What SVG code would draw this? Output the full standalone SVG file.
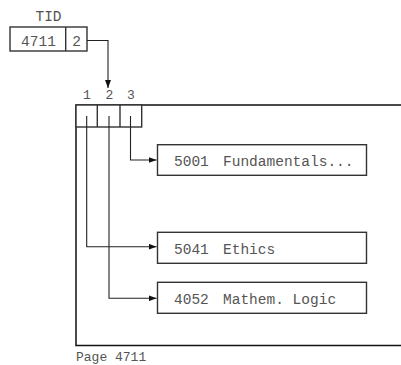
<svg xmlns="http://www.w3.org/2000/svg" width="401" height="365" viewBox="0 0 401 365">
<defs>
<marker id="ah" viewBox="0 0 8 6" refX="8" refY="3" markerWidth="8" markerHeight="6" markerUnits="userSpaceOnUse" orient="auto">
<path d="M0,0 L8,3 L0,6 z" fill="#111"/>
</marker>
<style>
.t{font-family:"Liberation Mono","DejaVu Sans Mono",monospace;font-size:14.5px;fill:#555}
.s{font-family:"Liberation Mono","DejaVu Sans Mono",monospace;font-size:13px;fill:#555}
.box{fill:#fff;stroke:#333;stroke-width:1.4}
.ln{fill:none;stroke:#222;stroke-width:1.1}
.fr{fill:none;stroke:#111;stroke-width:1.5}
</style>
</defs>
<rect width="401" height="365" fill="#fff"/>
<g id="tid">
<text class="t" x="48.5" y="20.5" text-anchor="middle">TID</text>
<rect class="box" x="10" y="27" width="77" height="24"/>
<line class="box" x1="65.7" y1="27" x2="65.7" y2="51"/>
<text class="t" x="38.5" y="45.5" text-anchor="middle">4711</text>
<text class="t" x="76.5" y="45.5" text-anchor="middle">2</text>
</g>
<g id="page">
<path class="fr" d="M401,105 H76 V345.5 H401"/>
<rect class="box" x="76" y="105" width="65.7" height="22"/>
<line class="box" x1="97.3" y1="105" x2="97.3" y2="127"/>
<line class="box" x1="120" y1="105" x2="120" y2="127"/>
<text class="s" x="87" y="99" text-anchor="middle">1</text>
<text class="s" x="109.5" y="99" text-anchor="middle">2</text>
<text class="s" x="131" y="99" text-anchor="middle">3</text>
<text class="s" x="76" y="361">Page 4711</text>
</g>
<g id="rec5001">
<rect class="box" x="157.5" y="144.7" width="209" height="30.6"/>
<text class="t" x="174" y="166">5001<tspan x="223">Fundamentals...</tspan></text>
</g>
<g id="rec5041">
<rect class="box" x="157.5" y="232.3" width="209" height="31"/>
<text class="t" x="174" y="254">5041<tspan x="223">Ethics</tspan></text>
</g>
<g id="rec4052">
<rect class="box" x="157.5" y="282.3" width="209" height="31"/>
<text class="t" x="174" y="304">4052<tspan x="223">Mathem. Logic</tspan></text>
</g>
<g id="connectors">
<path class="ln" d="M87,40.5 H108 V88" marker-end="url(#ah)"/>
<path class="ln" d="M130.5,116 V160 H156.5" marker-end="url(#ah)"/>
<path class="ln" d="M86.7,116 V246.7 H156.5" marker-end="url(#ah)"/>
<path class="ln" d="M109,116 V298.3 H156.5" marker-end="url(#ah)"/>
</g>
</svg>
